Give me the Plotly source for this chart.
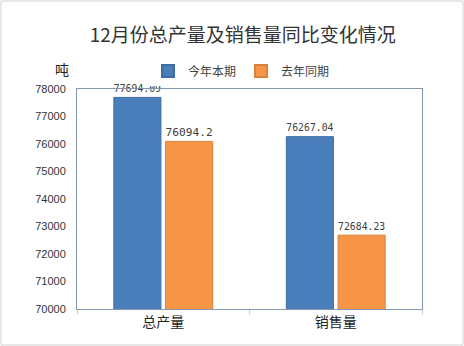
import plotly.graph_objects as go

categories = ["总产量", "销售量"]
this_year = [77694.09, 76267.04]
last_year = [76094.2, 72684.23]
this_labels = ["77694.09", "76267.04"]
last_labels = ["76094.2", "72684.23"]
series_names = ["今年本期", "去年同期"]

W, H = 464, 346
ml, mr, mt, mb = 77, 42, 89, 37
pw, ph = W - ml - mr, H - mt - mb

fig = go.Figure()
fig.add_trace(go.Bar(
    x=categories, y=this_year, name=series_names[0],
    marker=dict(color="#4a7ebb", line=dict(color="#3d6ba3", width=1)),
    text=this_labels, textposition="outside", cliponaxis=False,
    textfont=dict(family="DejaVu Sans Mono", size=12, color="#404040"),
))
fig.add_trace(go.Bar(
    x=categories, y=last_year, name=series_names[1],
    marker=dict(color="#f79646", line=dict(color="#d9823c", width=1)),
    text=last_labels, textposition="outside", cliponaxis=False,
    textfont=dict(family="DejaVu Sans Mono", size=12, color="#404040"),
))

axis_line = "#8496b0"
fig.update_layout(
    width=W, height=H,
    margin=dict(l=ml, r=mr, t=mt, b=mb),
    paper_bgcolor="white", plot_bgcolor="white",
    barmode="group", bargap=0.40, bargroupgap=0.09,
    font=dict(family="Noto Sans CJK SC", color="#222"),
    title=dict(text="12月份总产量及销售量同比变化情况",
               x=0.523, xanchor="center", y=1 - 35 / H, yanchor="middle",
               font=dict(family="Noto Sans CJK SC", size=19, color="#333")),
    legend=dict(orientation="h", x=(148 - ml) / pw, xanchor="left",
                y=1 + (mt - 71) / ph, yanchor="middle",
                font=dict(size=12, color="#444"), itemwidth=30,
                traceorder="normal", itemsizing="constant"),
    showlegend=True,
    xaxis=dict(showline=True, mirror=True, linecolor=axis_line, linewidth=1,
               ticks="outside", tickson="boundaries", ticklen=4,
               tickcolor="#c8c8c8",
               tickfont=dict(size=14, color="#222"), showgrid=False),
    yaxis=dict(range=[70000, 78000], dtick=1000, showline=True, mirror=True,
               linecolor=axis_line, linewidth=1, showgrid=False, zeroline=False,
               tickformat="d", ticks="", ticklabelstandoff=8,
               tickfont=dict(family="Liberation Sans", size=11, color="#333")),
    annotations=[dict(text="吨", xref="paper", yref="paper",
                      x=(62 - ml) / pw, y=1 + (mt - 69) / ph,
                      xanchor="center", yanchor="middle", showarrow=False,
                      font=dict(size=14, color="#222"))],
    shapes=[dict(type="rect", xref="paper", yref="paper",
                 x0=(1 - ml) / pw, x1=(W - 1 - ml) / pw,
                 y0=-(mb - 1) / ph, y1=1 + (mt - 1) / ph,
                 line=dict(color="#d0d0d0", width=1), layer="below")],
)

fig.write_html("out.html")
